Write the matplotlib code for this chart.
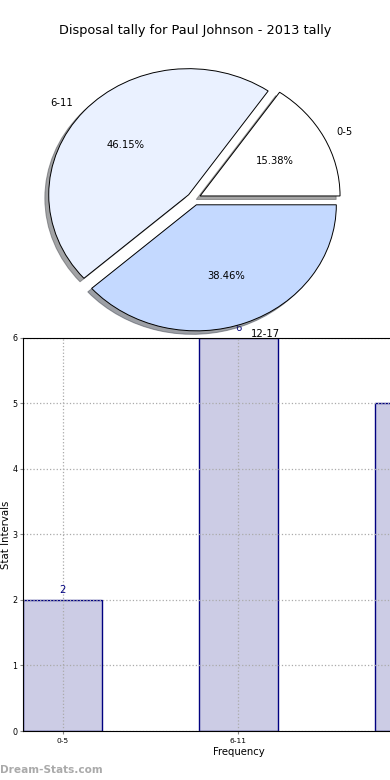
import matplotlib
matplotlib.use("Agg")
import matplotlib.pyplot as plt

# Disposal tally data
intervals = ["0-5", "6-11", "12-17"]
counts = [2, 6, 5]
pie_colors = ["#FFFFFF", "#EAF1FF", "#C4D9FF"]

fig = plt.figure(figsize=(3.9, 7.8), dpi=100)
fig.text(0.5, 0.961, "Disposal tally for Paul Johnson - 2013 tally",
         ha="center", va="center", fontsize=9.3)

# ---- bar chart (runs off the right edge, like the original)
axb = fig.add_axes([0.059, 0.0628, 1.105, 0.504])
pos = list(range(len(intervals)))
axb.bar(pos, counts, width=0.45, color="#CCCCE5", edgecolor="#000080",
        linewidth=1.0, zorder=2)
for x, v in zip(pos, counts):
    axb.text(x, v + 0.07, str(v), ha="center", va="bottom",
             fontsize=7.2, color="#000080", clip_on=False)
axb.set_xlim(-0.225, 2.225)
axb.set_ylim(0, 6)
axb.set_xticks(pos)
axb.set_xticklabels(intervals, fontsize=5.4)
axb.set_yticks(range(7))
axb.tick_params(axis="y", labelsize=5.8, length=2, color="#888888", pad=2)
axb.tick_params(axis="x", length=2, color="#888888", pad=3)
axb.grid(True, linestyle=":", color="#aaaaaa", linewidth=0.9, zorder=3)
axb.set_axisbelow(False)
for s in axb.spines.values():
    s.set_zorder(4)
axb.set_xlabel("Frequency", fontsize=7.3, labelpad=2)
axb.set_ylabel("Stat Intervals", fontsize=7.3, labelpad=1)
axb.spines["right"].set_visible(False)

# ---- pie chart on top
axp = fig.add_axes([0.0487, 0.543, 0.897, 0.404])
axp.pie(counts, labels=intervals, colors=pie_colors, autopct="%.2f%%",
        explode=[0.05, 0.05, 0.05], shadow=True, startangle=0,
        wedgeprops={"edgecolor": "black", "linewidth": 0.7},
        textprops={"fontsize": 7.2})
axp.set_aspect("auto")
axp.set_xlim(-1.25, 1.25)
axp.set_ylim(-1.25, 1.25)
axp.set_zorder(5)
axp.patch.set_visible(False)

fig.text(0.0, 0.013, "Dream-Stats.com", fontsize=7.6, color="#aaaaaa",
         fontweight="bold", ha="left", va="center")

fig.savefig("out.png", dpi=100, facecolor="white")
